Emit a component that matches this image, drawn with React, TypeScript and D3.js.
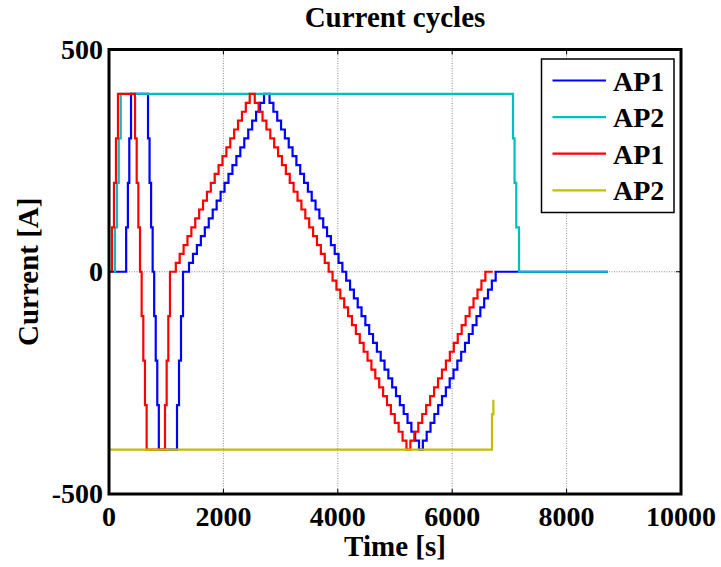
import React from "react";
import * as d3 from "d3";

// ---- data (time [s], current [A]) ----
const ap1BlueData: [number, number][] = [
  [0, 0], [300, 100], [330, 200], [355, 300], [385, 400],
  [682, 300], [709, 200], [736, 100], [763, 0], [790, -100], [817, -200], [844, -300], [871, -400],
  [1189, -300], [1224, -200], [1259, -100], [1294, 0],
  [1399, 20], [1468, 40], [1537, 60], [1606, 80], [1675, 100], [1744, 120], [1813, 140], [1882, 160],
  [1951, 180], [2020, 200], [2089, 220], [2158, 240], [2227, 260], [2296, 280], [2365, 300], [2434, 320],
  [2503, 340], [2572, 360], [2641, 380], [2710, 400],
  [2807, 380], [2874, 360], [2941, 340], [3008, 320], [3075, 300], [3142, 280], [3209, 260], [3276, 240],
  [3343, 220], [3410, 200], [3477, 180], [3544, 160], [3611, 140], [3678, 120], [3745, 100], [3812, 80],
  [3879, 60], [3946, 40], [4013, 20], [4080, 0], [4147, -20], [4214, -40], [4281, -60], [4348, -80],
  [4415, -100], [4482, -120], [4549, -140], [4616, -160], [4683, -180], [4750, -200], [4817, -220],
  [4884, -240], [4951, -260], [5018, -280], [5085, -300], [5152, -320], [5219, -340], [5286, -360],
  [5353, -380], [5420, -400],
  [5487, -380], [5554, -360], [5621, -340], [5688, -320], [5755, -300], [5822, -280], [5889, -260],
  [5956, -240], [6023, -220], [6090, -200], [6157, -180], [6224, -160], [6291, -140], [6358, -120],
  [6425, -100], [6492, -80], [6559, -60], [6626, -40], [6693, -20], [6760, 0],
  [8724, 0],
];

const ap2CyanData: [number, number][] = [
  [0, 0], [105, 100], [140, 200], [170, 300], [205, 400],
  [7063, 300], [7090, 200], [7120, 100], [7168, 0], [8724, 0],
];

const ap1RedData: [number, number][] = [
  [0, 0], [52, 100], [87, 200], [122, 300], [157, 400],
  [455, 300], [484, 200], [513, 100], [542, 0], [571, -100], [600, -200], [629, -300], [658, -400],
  [979, -300], [1008, -200], [1037, -100], [1066, 0],
  [1168, 20], [1236, 40], [1304, 60], [1372, 80], [1440, 100], [1508, 120], [1576, 140], [1644, 160],
  [1712, 180], [1780, 200], [1848, 220], [1916, 240], [1984, 260], [2052, 280], [2120, 300], [2188, 320],
  [2256, 340], [2324, 360], [2392, 380], [2460, 400],
  [2548, 380], [2616, 360], [2684, 340], [2752, 320], [2820, 300], [2888, 280], [2956, 260], [3024, 240],
  [3092, 220], [3160, 200], [3228, 180], [3296, 160], [3364, 140], [3432, 120], [3500, 100], [3568, 80],
  [3636, 60], [3704, 40], [3772, 20], [3840, 0], [3908, -20], [3976, -40], [4044, -60], [4112, -80],
  [4180, -100], [4248, -120], [4316, -140], [4384, -160], [4452, -180], [4520, -200], [4588, -220],
  [4656, -240], [4724, -260], [4792, -280], [4860, -300], [4928, -320], [4996, -340], [5064, -360],
  [5132, -380], [5200, -400],
  [5269, -380], [5338, -360], [5407, -340], [5476, -320], [5545, -300], [5614, -280], [5683, -260],
  [5752, -240], [5821, -220], [5890, -200], [5959, -180], [6028, -160], [6097, -140], [6166, -120],
  [6235, -100], [6304, -80], [6373, -60], [6442, -40], [6511, -20], [6580, 0],
  [6708, 0],
];

const ap2YellowData: [number, number][] = [
  [0, -400], [6696, -321], [6720, -288],
];

const seriesLabels = ["AP1", "AP2", "AP1", "AP2"];
const seriesColors = ["#0000ff", "#00bfbf", "#ff0000", "#bfbf00"];
const xTicks = [0, 2000, 4000, 6000, 8000, 10000];
const yTicks = [-500, 0, 500];
const xGrid = [2000, 4000, 6000, 8000];
const yGrid = [0];

const W = 721;
const H = 567;
const FONT = "'Liberation Serif', 'Times New Roman', serif";

export default function App() {
  const x = d3.scaleLinear().domain([0, 10000]).range([109, 681]);
  const y = d3.scaleLinear().domain([-500, 500]).range([494, 49.5]);
  const line = d3
    .line<[number, number]>()
    .x((d) => x(d[0]))
    .y((d) => y(d[1]))
    .curve(d3.curveStepAfter);

  const allSeries = [ap1BlueData, ap2CyanData, ap1RedData, ap2YellowData];
  const [x0, x1] = x.range();
  const [yb, yt] = y.range();
  const tickLen = 5;

  const legX = 541.5;
  const legY = 59;
  const legW = 132.5;
  const legH = 153.5;
  const rowY = (i: number) => 80.5 + i * 36.6;

  return (
    <svg
      width={W}
      height={H}
      style={{ position: "absolute", left: 0, top: 0, background: "#fff" }}
      fontFamily={FONT}
      fontWeight="bold"
    >
      <rect x={0} y={0} width={W} height={H} fill="#fff" />
      {/* grid */}
      {xGrid.map((v) => (
        <line key={"gx" + v} x1={x(v)} x2={x(v)} y1={yb} y2={yt} stroke="#6e6e6e" strokeWidth={0.8} strokeDasharray="1 1.5" />
      ))}
      {yGrid.map((v) => (
        <line key={"gy" + v} x1={x0} x2={x1} y1={y(v)} y2={y(v)} stroke="#6e6e6e" strokeWidth={0.8} strokeDasharray="1 1.5" />
      ))}
      {/* series */}
      {allSeries.map((s, i) => (
        <path key={"s" + i} d={line(s) || ""} fill="none" stroke={seriesColors[i]} strokeWidth={2.2} strokeLinejoin="miter" />
      ))}
      {/* ticks */}
      {xTicks.map((v) => (
        <g key={"xt" + v}>
          <line x1={x(v)} x2={x(v)} y1={yb} y2={yb - tickLen} stroke="#000" strokeWidth={1} />
          <line x1={x(v)} x2={x(v)} y1={yt} y2={yt + tickLen} stroke="#000" strokeWidth={1} />
          <text x={x(v)} y={526} textAnchor="middle" fontSize={28} fill="#000">
            {v}
          </text>
        </g>
      ))}
      {yTicks.map((v) => (
        <g key={"yt" + v}>
          <line x1={x0} x2={x0 + tickLen} y1={y(v)} y2={y(v)} stroke="#000" strokeWidth={1} />
          <line x1={x1} x2={x1 - tickLen} y1={y(v)} y2={y(v)} stroke="#000" strokeWidth={1} />
          <text x={103} y={y(v) + 9} textAnchor="end" fontSize={28} fill="#000">
            {v}
          </text>
        </g>
      ))}
      {/* axes box */}
      <rect x={x0} y={yt} width={x1 - x0} height={yb - yt} fill="none" stroke="#000" strokeWidth={3} />
      {/* title and labels */}
      <text x={395} y={27} textAnchor="middle" fontSize={29} fill="#000">
        Current cycles
      </text>
      <text x={395} y={556} textAnchor="middle" fontSize={29} fill="#000">
        Time [s]
      </text>
      <text transform={`translate(38, ${(yb + yt) / 2}) rotate(-90)`} textAnchor="middle" fontSize={29} fill="#000">
        Current [A]
      </text>
      {/* legend */}
      <rect x={legX} y={legY} width={legW} height={legH} fill="#fff" stroke="#000" strokeWidth={1.5} />
      {seriesLabels.map((lab, i) => (
        <g key={"lg" + i}>
          <line x1={552.5} x2={606} y1={rowY(i)} y2={rowY(i)} stroke={seriesColors[i]} strokeWidth={2.2} />
          <text x={613} y={rowY(i) + 10} fontSize={28} fill="#000">
            {lab}
          </text>
        </g>
      ))}
    </svg>
  );
}
